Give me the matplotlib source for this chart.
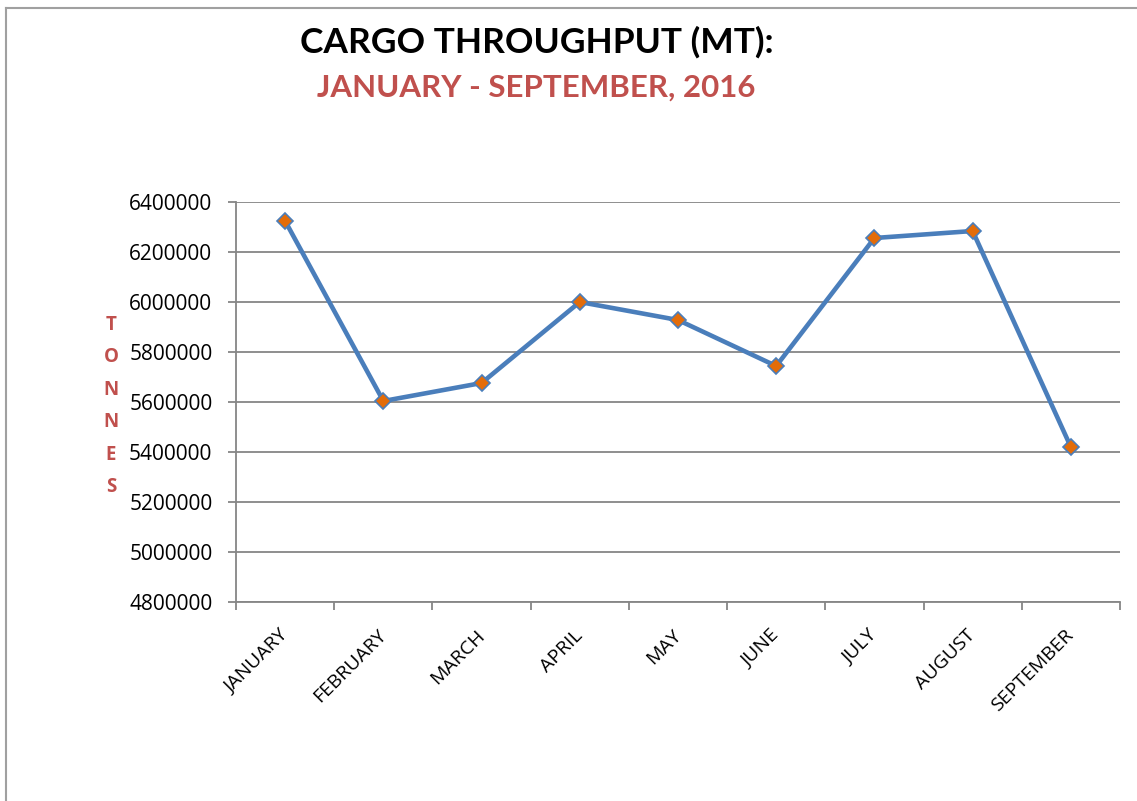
import numpy as np
import matplotlib.pyplot as plt
from matplotlib.lines import Line2D

months = ['JANUARY', 'FEBRUARY', 'MARCH', 'APRIL', 'MAY', 'JUNE', 'JULY', 'AUGUST', 'SEPTEMBER']
tonnes = [6324000, 5604000, 5676000, 6000000, 5928000, 5744000, 6256000, 6284000, 5420000]
y_ticks = [4800000, 5000000, 5200000, 5400000, 5600000, 5800000, 6000000, 6200000, 6400000]

plt.rcParams['font.family'] = ['Open Sans', 'DejaVu Sans']

fig = plt.figure(figsize=(11.37, 8.01), dpi=100)
ax = fig.add_axes([0.2076, 0.2484, 0.7774, 0.4994])

x = np.arange(len(months))
ax.plot(x, tonnes, color='#4A7EBB', lw=3.3, marker='D', markersize=8.5,
        markerfacecolor='#E36C09', markeredgecolor='#4A7EBB', markeredgewidth=1.2, zorder=3)

ax.set_xlim(-0.5, len(months) - 0.5)
ax.set_ylim(y_ticks[0], y_ticks[-1])
ax.set_yticks(y_ticks)
ax.set_yticklabels([str(v) for v in y_ticks], fontsize=15)
ax.yaxis.grid(True, color='#868686', lw=1.3)
ax.set_axisbelow(True)

# etiquettes au centre des catégories, graduations entre les catégories
ax.set_xticks(x)
ax.set_xticklabels(months, rotation=45, ha='right', va='center', rotation_mode='anchor', fontsize=14)
ax.tick_params(axis='x', length=0, pad=22)
ax.set_xticks(np.arange(len(months) + 1) - 0.5, minor=True)
ax.tick_params(axis='x', which='minor', length=6, color='#868686', width=1.3)
ax.tick_params(axis='y', length=6, color='#868686', width=1.3, pad=11)

for s in ['top', 'right']:
    ax.spines[s].set_visible(False)
for s in ['left', 'bottom']:
    ax.spines[s].set_color('#868686')
    ax.spines[s].set_linewidth(1.3)

fig.text(0.472, 0.947, 'CARGO THROUGHPUT (MT):', ha='center', va='center',
         fontsize=25.5, fontweight='bold', family=['Lato', 'DejaVu Sans'])
fig.text(0.472, 0.891, 'JANUARY - SEPTEMBER, 2016', ha='center', va='center',
         fontsize=22.5, fontweight='bold', color='#C0504D', family=['Lato', 'DejaVu Sans'])

# étiquette verticale lettre par lettre
for i, ch in enumerate('TONNES'):
    fig.text(0.0976, (801 - 325 - i * 32.4) / 801, ch, ha='center', va='center',
             fontsize=13.5, fontweight='bold', color='#C0504D')

# cadre du graphique
fig.add_artist(Line2D([6 / 1137, 1], [1 - 8 / 801, 1 - 8 / 801], color='#A0A0A0', lw=1.5))
fig.add_artist(Line2D([6 / 1137, 6 / 1137], [0, 1 - 8 / 801], color='#A0A0A0', lw=1.5))

fig.savefig('out.png', dpi=100)
